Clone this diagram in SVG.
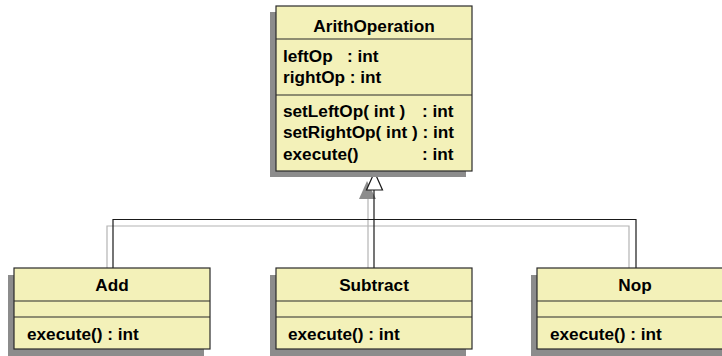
<svg xmlns="http://www.w3.org/2000/svg" width="722" height="356" viewBox="0 0 722 356">
<style>
.box{fill:#f3f1b9;stroke:#2a2a2a;stroke-width:1.2}
.sh{fill:#8c8c8c}
.sep{stroke:#2a2a2a;stroke-width:1.2}
.t{font-family:"Liberation Sans",Arial,sans-serif;font-weight:bold;font-size:17.2px;fill:#000}
.c{text-anchor:middle}
.ln{fill:none;stroke:#1a1a1a;stroke-width:1.2}
.gl{fill:none;stroke:#b4b4b4;stroke-width:1.2}
</style>
<rect width="722" height="356" fill="#fff"/>
<g id="connectors">
<polyline class="gl" points="107,268 107,226 629,226 629,268"/>
<line class="gl" x1="368" y1="198" x2="368" y2="268"/>
<polygon points="367,181 359,199 376,199" fill="#8c8c8c"/>
<polyline class="ln" points="113,268 113,219.5 636,219.5 636,268"/>
<line class="ln" x1="374" y1="190" x2="374" y2="268"/>
<polygon points="374.5,172 366.5,190 382.5,190" fill="#fff" stroke="#1a1a1a" stroke-width="1.2"/>
</g>
<g id="ArithOperation">
<rect class="sh" x="270" y="12" width="196" height="165"/>
<rect class="box" x="276" y="6" width="196" height="165"/>
<line class="sep" x1="276" y1="39" x2="472" y2="39"/>
<line class="sep" x1="276" y1="95" x2="472" y2="95"/>
<text class="t c" x="374" y="32">ArithOperation</text>
<text class="t"><tspan x="283" y="62">leftOp</tspan><tspan x="347" y="62">: int</tspan></text>
<text class="t" x="283" y="83">rightOp : int</text>
<text class="t"><tspan x="283" y="117">setLeftOp( int )</tspan><tspan x="422" y="117">: int</tspan></text>
<text class="t" x="283" y="138">setRightOp( int ) : int</text>
<text class="t"><tspan x="283" y="160">execute()</tspan><tspan x="422" y="160">: int</tspan></text>
</g>
<g id="Add">
<rect class="sh" x="8" y="275" width="196" height="81"/>
<rect class="box" x="14" y="268" width="196" height="81"/>
<line class="sep" x1="14" y1="301" x2="210" y2="301"/>
<line class="sep" x1="14" y1="317" x2="210" y2="317"/>
<text class="t c" x="112" y="291">Add</text>
<text class="t" x="27" y="340">execute() : int</text>
</g>
<g id="Subtract">
<rect class="sh" x="270" y="275" width="196" height="81"/>
<rect class="box" x="276" y="268" width="196" height="81"/>
<line class="sep" x1="276" y1="301" x2="472" y2="301"/>
<line class="sep" x1="276" y1="317" x2="472" y2="317"/>
<text class="t c" x="374" y="291">Subtract</text>
<text class="t" x="288" y="340">execute() : int</text>
</g>
<g id="Nop">
<rect class="sh" x="531" y="275" width="196" height="81"/>
<rect class="box" x="537" y="268" width="196" height="81"/>
<line class="sep" x1="537" y1="301" x2="733" y2="301"/>
<line class="sep" x1="537" y1="317" x2="733" y2="317"/>
<text class="t c" x="635" y="291">Nop</text>
<text class="t" x="550" y="340">execute() : int</text>
</g>
</svg>
